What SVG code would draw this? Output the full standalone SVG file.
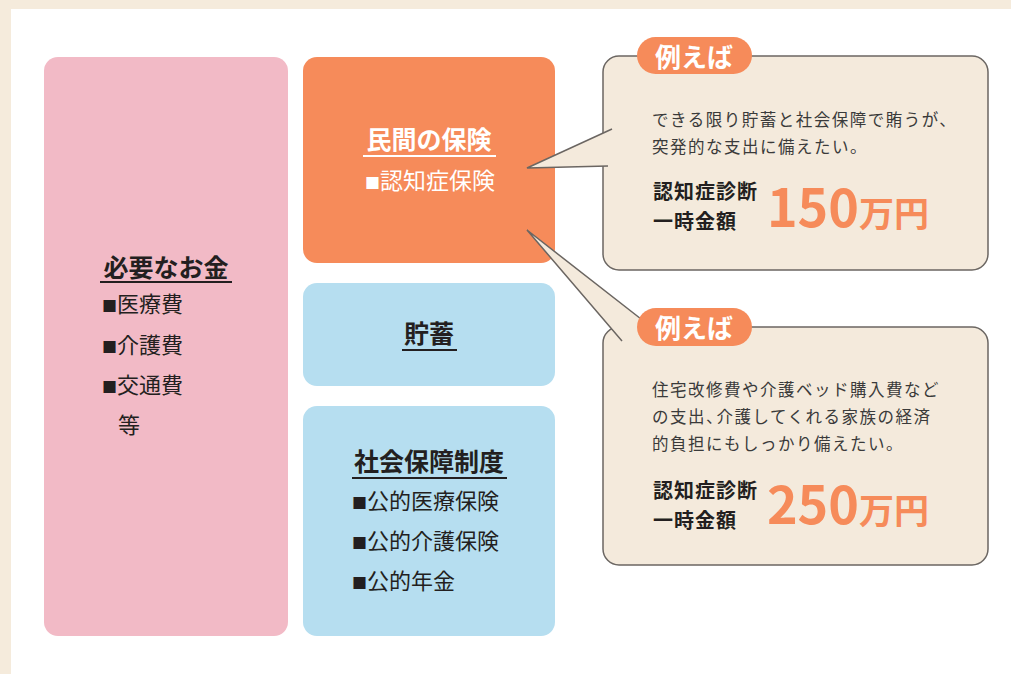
<svg xmlns="http://www.w3.org/2000/svg" width="1011" height="674" viewBox="0 0 1011 674">
<style>
text{font-family:"Noto Sans CJK JP","Noto Sans",sans-serif;}
.b{font-weight:700;}
.dk{fill:#231f20;}
.wh{fill:#ffffff;}
.item{font-size:22px;}
.sq{font-size:15px;}
.ttl{font-size:25px;font-weight:700;}
.call{fill:#f4eadc;stroke:#6b6662;stroke-width:1.5;}
.tab{fill:#f68b5a;}
.tabt{font-size:26px;font-weight:700;fill:#ffffff;}
.body{font-size:16.5px;fill:#3a3a3a;letter-spacing:1.5px;}
.lbl{font-size:20px;font-weight:700;fill:#231f20;letter-spacing:1px;}
.num{font-size:52px;font-weight:700;fill:#f68b5a;}
.unit{font-size:35px;}
</style>
<rect x="0" y="0" width="1011" height="674" fill="#f5ebdc"/>
<rect x="11" y="9" width="1000" height="665" fill="#ffffff"/>

<g id="connectors">
</g>

<g id="need">
<rect x="44" y="57" width="244" height="579" rx="14" fill="#f2bac6"/>
<text x="166" y="277" text-anchor="middle" class="ttl dk">必要なお金</text>
<line x1="100" y1="282" x2="232" y2="282" stroke="#231f20" stroke-width="2"/>
<text x="102" y="312" class="item dk"><tspan class="sq">■</tspan>医療費</text>
<text x="102" y="353" class="item dk"><tspan class="sq">■</tspan>介護費</text>
<text x="102" y="393" class="item dk"><tspan class="sq">■</tspan>交通費</text>
<text x="118" y="433" class="item dk">等</text>
</g>

<g id="private">
<rect x="303" y="57" width="252" height="206" rx="14" fill="#f68b5a"/>
<text x="429" y="149" text-anchor="middle" class="ttl wh">民間の保険</text>
<line x1="363" y1="156" x2="496" y2="156" stroke="#ffffff" stroke-width="2"/>
<text x="365" y="189" class="wh" style="font-size:23px"><tspan class="sq">■</tspan>認知症保険</text>
</g>

<g id="savings">
<rect x="303" y="283" width="252" height="103" rx="14" fill="#b6def0"/>
<text x="429" y="343" text-anchor="middle" class="ttl dk">貯蓄</text>
<line x1="402" y1="350" x2="457" y2="350" stroke="#231f20" stroke-width="2"/>
</g>

<g id="social">
<rect x="303" y="406" width="252" height="230" rx="14" fill="#b6def0"/>
<text x="429" y="471" text-anchor="middle" class="ttl dk">社会保障制度</text>
<line x1="352" y1="478" x2="507" y2="478" stroke="#231f20" stroke-width="2"/>
<text x="352" y="509" class="item dk"><tspan class="sq">■</tspan>公的医療保険</text>
<text x="352" y="549" class="item dk"><tspan class="sq">■</tspan>公的介護保険</text>
<text x="352" y="589" class="item dk"><tspan class="sq">■</tspan>公的年金</text>
</g>

<g id="example1">
<rect x="603" y="56" width="385" height="214" rx="16" class="call"/>
<path d="M612,129 L527,168 L608,166" class="call"/>
<rect x="637" y="37" width="115" height="37" rx="18.5" class="tab"/>
<text x="694" y="67" text-anchor="middle" class="tabt">例えば</text>
<text x="652" y="126" class="body">できる限り貯蓄と社会保障で賄うが、</text>
<text x="652" y="153" class="body">突発的な支出に備えたい。</text>
<text x="653" y="199" class="lbl">認知症診断</text>
<text x="653" y="229" class="lbl">一時金額</text>
<text x="929" y="227" text-anchor="end" class="num">150<tspan class="unit">万円</tspan></text>
</g>

<g id="example2">
<rect x="603" y="327" width="385" height="238" rx="16" class="call"/>
<path d="M622,341 L527,230 L650,326" class="call"/>
<rect x="637" y="308" width="115" height="38" rx="19" class="tab"/>
<text x="694" y="338" text-anchor="middle" class="tabt">例えば</text>
<text x="652" y="396" class="body">住宅改修費や介護ベッド購入費など</text>
<text x="652" y="423" class="body">の支出<tspan style="letter-spacing:-6px">、</tspan>介護してくれる家族の経済</text>
<text x="652" y="450" class="body">的負担にもしっかり備えたい。</text>
<text x="653" y="498" class="lbl">認知症診断</text>
<text x="653" y="528" class="lbl">一時金額</text>
<text x="929" y="524" text-anchor="end" class="num">250<tspan class="unit">万円</tspan></text>
</g>
</svg>
